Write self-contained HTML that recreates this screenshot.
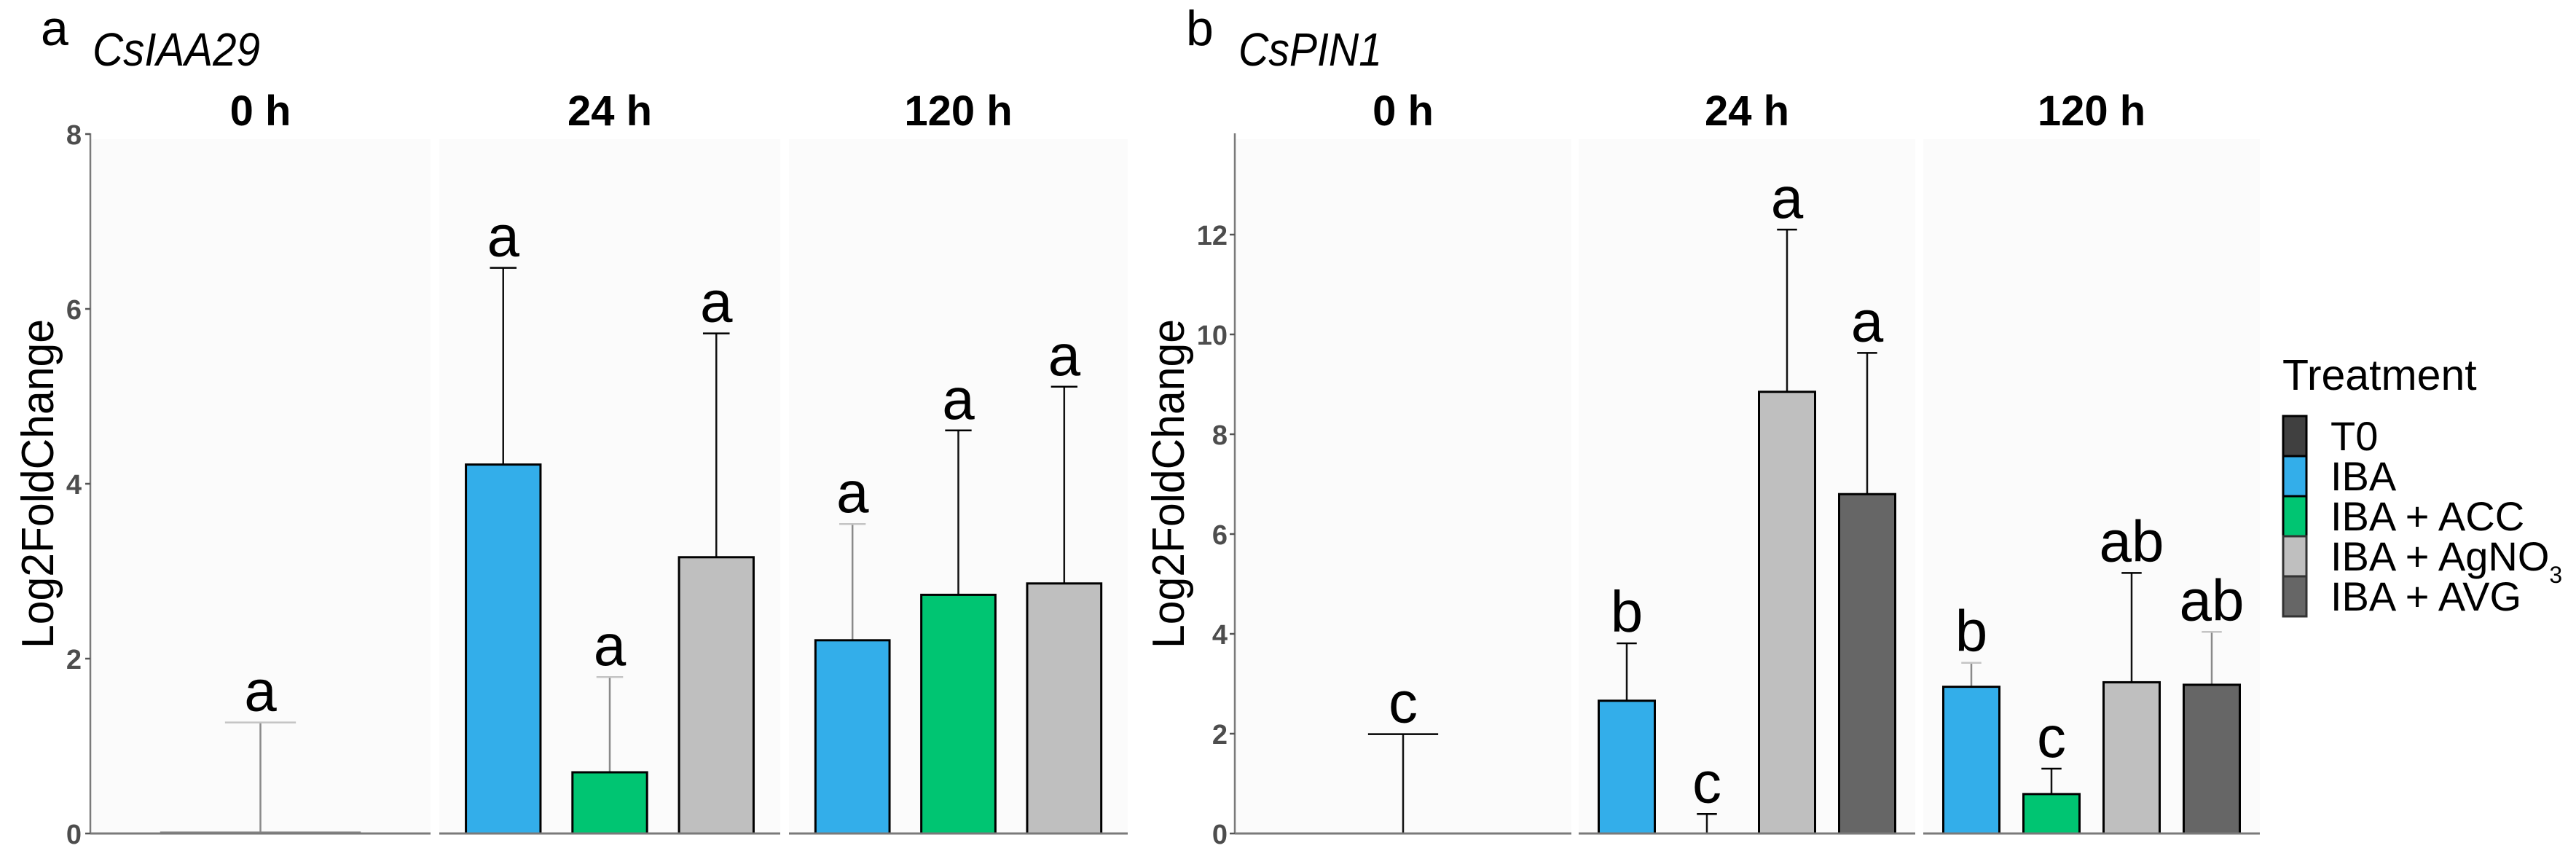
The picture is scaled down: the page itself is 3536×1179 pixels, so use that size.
<!DOCTYPE html>
<html lang="en">
<head>
<meta charset="utf-8">
<title>CsIAA29 and CsPIN1 expression</title>
<style>
  html, body { margin: 0; padding: 0; background: #fff; }
  svg { display: block; font-family: "Liberation Sans", Arial, sans-serif; }
</style>
</head>
<body>
<svg id="fig" xmlns="http://www.w3.org/2000/svg" width="3536" height="1179" viewBox="0 0 3536 1179">
  <rect x="0" y="0" width="3536" height="1179" fill="#ffffff"/>
  <g id="chart-a"></g>
  <g id="chart-b"></g>
  <g id="legend">
    <text x="3133" y="535" font-size="59" fill="#000">Treatment</text>
  </g>
</svg>
<script>
// ---------- Shared categories ----------
const timepoints = ['0 h', '24 h', '120 h'];
const treatments = ['T0', 'IBA', 'IBA + ACC', 'IBA + AgNO3', 'IBA + AVG'];

// ---------- CsIAA29 data ----------
const iaaCategories = [['T0'], ['IBA', 'IBA + ACC', 'IBA + AgNO3'], ['IBA', 'IBA + ACC', 'IBA + AgNO3']];
const iaaMeans = [[0.01], [4.22, 0.70, 3.16], [2.21, 2.73, 2.86]];
const iaaErrorTops = [[1.27], [6.47, 1.79, 5.72], [3.54, 4.61, 5.11]];
const iaaLetters = [['a'], ['a', 'a', 'a'], ['a', 'a', 'a']];
const iaaTicks = [0, 2, 4, 6, 8];

// ---------- CsPIN1 data ----------
const pinCategories = [['T0'], ['IBA', 'IBA + ACC', 'IBA + AgNO3', 'IBA + AVG'], ['IBA', 'IBA + ACC', 'IBA + AgNO3', 'IBA + AVG']];
const pinMeans = [[0], [2.66, 0, 8.85, 6.80], [2.94, 0.79, 3.03, 2.98]];
const pinErrorTops = [[1.99], [3.81, 0.39, 12.1, 9.63], [3.42, 1.30, 5.22, 4.04]];
const pinLetters = [['c'], ['b', 'c', 'a', 'a'], ['b', 'c', 'ab', 'ab']];
const pinTicks = [0, 2, 4, 6, 8, 10, 12];

// ---------- Styling (not data) ----------
const fills = { 'T0': '#404040', 'IBA': '#33aeea', 'IBA + ACC': '#00c572', 'IBA + AgNO3': '#bfbfbf', 'IBA + AVG': '#666666' };
const NS = 'http://www.w3.org/2000/svg';

function add(parent, tag, attrs, text) {
  const el = document.createElementNS(NS, tag);
  for (const k in attrs) el.setAttribute(k, attrs[k]);
  if (text !== undefined) el.textContent = text;
  parent.appendChild(el);
  return el;
}
function slug(s) {
  return s.toLowerCase().replace(/[^a-z0-9]+/g, '-').replace(/^-|-$/g, '');
}

function drawChart(cfg) {
  const root = document.getElementById(cfg.rootId);
  const baseY = 1144;
  const yPos = v => baseY - v * cfg.pxPerUnit;

  // Panel backgrounds and strip titles
  timepoints.forEach((tp, p) => {
    const panel = cfg.panels[p];
    const bg = add(root, 'rect', { x: panel[0], y: 191, width: panel[1] - panel[0], height: baseY - 191, fill: '#fbfbfb' });
    
    
    const strip = add(root, 'text', { x: (panel[0] + panel[1]) / 2, y: 172, 'font-size': 58, 'font-weight': 'bold', 'text-anchor': 'middle', fill: '#000' }, tp);
    
    
  });

  // Marks
  cfg.means.forEach((series, p) => {
    const panel = cfg.panels[p];
    const n = series.length;
    const unit = (panel[1] - panel[0]) / (n + 0.2);
    series.forEach((mean, i) => {
      const cx = panel[0] + (i + 0.6) * unit;
      const barW = 0.7 * unit;
      const capW = 0.25 * unit;
      const cat = cfg.categories[p][i];
      const errTop = cfg.errorTops[p][i];
      const key = timepoints[p] + '|' + cat;
      const tone = cfg.faint.indexOf(key) >= 0 ? '#a8a8a8' : '#000000';
      const capTone = cfg.faint.indexOf(key) >= 0 ? '#c4c4c4' : '#000000';
      const label = slug(timepoints[p]) + '-' + slug(cat);

      const stem = add(root, 'line', { x1: cx, x2: cx, y1: yPos(mean), y2: yPos(errTop), stroke: tone === '#000000' ? '#111' : '#8a8a8a', 'stroke-width': 2.5 });
      
      

      const cap = add(root, 'line', { x1: cx - capW / 2, x2: cx + capW / 2, y1: yPos(errTop), y2: yPos(errTop), stroke: capTone, 'stroke-width': 2.5 });
      
      

      const flat = mean < 0.05;
      const bar = add(root, 'rect', { x: cx - barW / 2, y: yPos(mean), width: barW, height: baseY - yPos(mean), fill: fills[cat], stroke: flat ? '#888888' : '#000000', 'stroke-width': 3 });
      
      

      const letter = add(root, 'text', { x: cx, y: yPos(errTop) - 16, 'font-size': 80, 'text-anchor': 'middle', fill: '#000' }, cfg.letters[p][i]);
      
      
    });

    const base = add(root, 'line', { x1: panel[0], x2: panel[1], y1: baseY, y2: baseY, stroke: '#7a7a7a', 'stroke-width': 3 });
    
    
  });

  // Y axis
  const axisX = cfg.panels[0][0];
  const yLine = add(root, 'line', { x1: axisX, x2: axisX, y1: 183, y2: baseY + 1, stroke: '#7a7a7a', 'stroke-width': 2.5 });
  
  

  cfg.ticks.forEach(t => {
    const mark = add(root, 'line', { x1: axisX - 7, x2: axisX, y1: yPos(t), y2: yPos(t), stroke: '#555', 'stroke-width': 2.5 });
    
    
    const lab = add(root, 'text', { x: axisX - cfg.tickGap, y: yPos(t) + 14, 'font-size': 38, 'font-weight': 'bold', 'text-anchor': 'end', fill: '#4d4d4d' }, String(t));
    
    
  });

  const yTitle = add(root, 'text', { transform: 'translate(' + cfg.yTitleX + ',664) rotate(-90)', 'font-size': 62, 'text-anchor': 'middle', fill: '#000', textLength: 452, lengthAdjust: 'spacingAndGlyphs' }, 'Log2FoldChange');
  
  

  const tag = add(root, 'text', { x: cfg.tagX, y: 62, 'font-size': 68, fill: '#000' }, cfg.tag);
  
  

  const title = add(root, 'text', { x: cfg.titleX, y: 90, 'font-size': 64, 'font-style': 'italic', fill: '#000', textLength: cfg.titleLen, lengthAdjust: 'spacingAndGlyphs' }, cfg.title);
  
  
}

drawChart({
  rootId: 'chart-a',
  panels: [[124, 591], [603, 1071], [1083, 1548]],
  pxPerUnit: 120,
  categories: iaaCategories,
  means: iaaMeans,
  errorTops: iaaErrorTops,
  letters: iaaLetters,
  ticks: iaaTicks,
  faint: ['0 h|T0', '24 h|IBA + ACC', '120 h|IBA'],
  tickGap: 12,
  yTitleX: 73,
  tag: 'a',
  tagX: 56,
  title: 'CsIAA29',
  titleX: 127,
  titleLen: 230
});

drawChart({
  rootId: 'chart-b',
  panels: [[1695, 2157], [2167, 2629], [2640, 3102]],
  pxPerUnit: 68.5,
  categories: pinCategories,
  means: pinMeans,
  errorTops: pinErrorTops,
  letters: pinLetters,
  ticks: pinTicks,
  faint: ['120 h|IBA', '120 h|IBA + AVG'],
  tickGap: 10,
  yTitleX: 1625,
  tag: 'b',
  tagX: 1628,
  title: 'CsPIN1',
  titleX: 1700,
  titleLen: 197
});

// Legend
(function () {
  const lg = document.getElementById('legend');
  const top = 571, keyH = 55, keyW = 32, keyX = 3134, textX = 3199;
  treatments.forEach((t, i) => {
    const key = add(lg, 'rect', { x: keyX, y: top + i * keyH, width: keyW, height: keyH, fill: fills[t], stroke: i < 3 ? '#000000' : '#333333', 'stroke-width': 3 });
    
    

    const label = add(lg, 'text', { x: textX, y: top + i * keyH + 47, 'font-size': 56, fill: '#000' });
    
    
    if (t.endsWith('3')) {
      label.textContent = t.slice(0, -1);
      add(label, 'tspan', { dy: 17, 'font-size': 32 }, '3');
    } else {
      label.textContent = t;
    }
  });
})();
</script>
</body>
</html>
